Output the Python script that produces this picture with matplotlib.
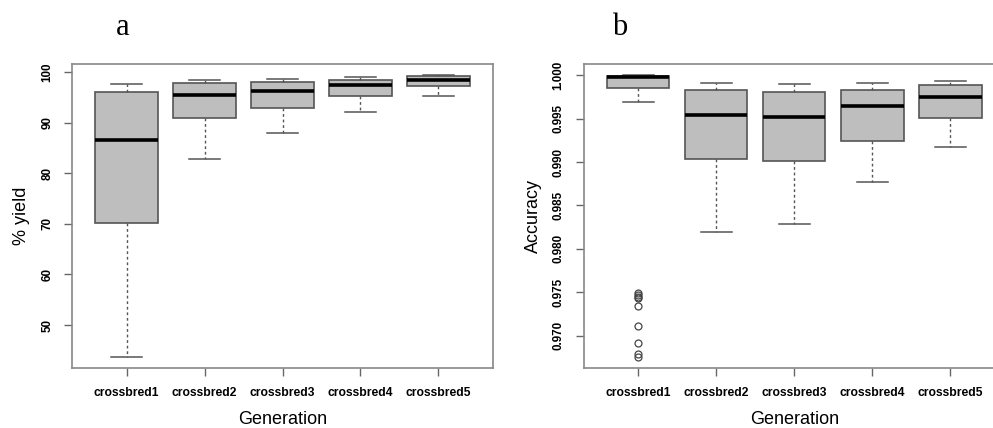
import matplotlib
matplotlib.use("Agg")
import matplotlib.pyplot as plt

# ---------------------------DATA---------------------------------------------------------#
generations = ['crossbred1', 'crossbred2', 'crossbred3', 'crossbred4', 'crossbred5']

# panel a : % yield
yield_whislo = [43.7, 82.8, 88.0, 92.15, 95.2]
yield_q1 = [70.1, 90.97, 92.95, 95.2, 97.2]
yield_med = [86.6, 95.45, 96.2, 97.35, 98.35]
yield_q3 = [96.05, 97.75, 98.0, 98.5, 99.27]
yield_whishi = [97.55, 98.35, 98.7, 99.07, 99.5]

# panel b : accuracy
acc_whislo = [0.99696, 0.98199, 0.98285, 0.98769, 0.99175]
acc_q1 = [0.99857, 0.99038, 0.99014, 0.99248, 0.99505]
acc_med = [0.99977, 0.99547, 0.99524, 0.99647, 0.9975]
acc_q3 = [0.99995, 0.99831, 0.99811, 0.99831, 0.99885]
acc_whishi = [0.99998, 0.99911, 0.9990, 0.99915, 0.99938]
acc_outliers1 = [0.9749, 0.9747, 0.9745, 0.9743, 0.9734, 0.9711, 0.9692, 0.9679, 0.9676]

plt.rcParams['font.family'] = ['Liberation Sans', 'DejaVu Sans']

def make_stats(lo, q1, med, q3, hi, fliers=None):
    stats = []
    for i in range(len(med)):
        stats.append({'whislo': lo[i], 'q1': q1[i], 'med': med[i], 'q3': q3[i],
                      'whishi': hi[i], 'fliers': (fliers[i] if fliers else [])})
    return stats

def draw_panel(ax, stats, yticks, yfmt, ylabel, letter):
    ax.bxp(stats, positions=range(1, len(stats)+1), widths=0.8, patch_artist=True,
           boxprops=dict(facecolor='#bebebe', edgecolor='#555555', linewidth=1.2),
           medianprops=dict(color='black', linewidth=2.6),
           whiskerprops=dict(color='#555555', linewidth=1.0, linestyle=(0, (2, 2))),
           capprops=dict(color='#555555', linewidth=1.1),
           flierprops=dict(marker='o', markerfacecolor='none', markeredgecolor='#444444',
                           markersize=5, markeredgewidth=0.9))
    ax.set_xlim(0.3, 5.7)
    ax.set_xticks(range(1, 6))
    ax.set_xticklabels(generations, fontsize=8.7, fontweight='bold')
    ax.set_yticks(yticks)
    ax.set_yticklabels([yfmt.format(v) for v in yticks], fontsize=8.4, fontweight='bold',
                       rotation=90, va='center')
    ax.tick_params(length=6, width=1, color='#666666', pad=7.5)
    for s in ax.spines.values():
        s.set_color('#888888')
        s.set_linewidth(1.2)
    ax.set_xlabel('Generation', fontsize=13, labelpad=9)
    ax.set_ylabel(ylabel, fontsize=13, labelpad=8)
    ax.text(0.12, 1.12, letter, transform=ax.transAxes, fontsize=22,
            family='Liberation Serif', ha='center', va='center')

fig = plt.figure(figsize=(9.93, 4.28), dpi=100)
axA = fig.add_axes([72/993, 60/428, 421/993, 304/428])
axB = fig.add_axes([583.5/993, 60/428, 421.5/993, 304/428])

draw_panel(axA, make_stats(yield_whislo, yield_q1, yield_med, yield_q3, yield_whishi),
           [50, 60, 70, 80, 90, 100], '{:d}', '% yield', 'a')
axA.set_ylim(41.5, 101.6)

fl = [acc_outliers1, [], [], [], []]
draw_panel(axB, make_stats(acc_whislo, acc_q1, acc_med, acc_q3, acc_whishi, fl),
           [0.970, 0.975, 0.980, 0.985, 0.990, 0.995, 1.000], '{:.3f}', 'Accuracy', 'b')
axB.set_ylim(0.96628, 1.0013)
axB.texts[0].set_position((0.085, 1.12))

fig.savefig('out.png', dpi=100)
